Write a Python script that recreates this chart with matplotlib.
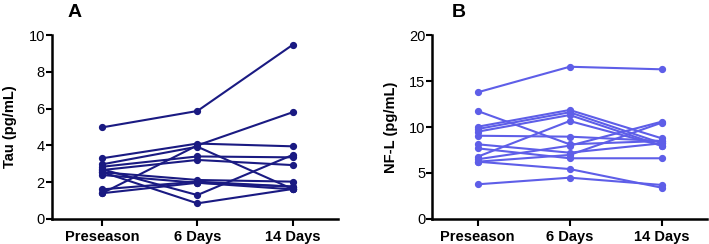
import numpy as np
import matplotlib.pyplot as plt

plt.rcParams['font.family'] = ['Liberation Sans', 'DejaVu Sans']

timepoints = ["Preseason", "6 Days", "14 Days"]

# Tau (pg/mL), one row per subject: preseason, 6 days, 14 days
tau = [
    [4.98, 5.87, 9.46],
    [1.40, 4.00, 5.80],
    [3.30, 4.10, 3.95],
    [2.97, 3.93, 1.63],
    [2.84, 3.40, 3.35],
    [2.66, 3.21, 2.93],
    [2.54, 2.12, 2.03],
    [2.39, 1.97, 1.76],
    [2.70, 1.30, 3.48],
    [1.61, 2.03, 1.76],
    [2.55, 0.85, 1.63],
    [1.40, 1.97, 1.61],
]

# NF-L (pg/mL)
nfl = [
    [13.77, 16.55, 16.27],
    [11.74, 8.12, 8.48],
    [10.03, 11.85, 8.77],
    [9.78, 11.60, 8.23],
    [9.49, 11.30, 7.97],
    [9.05, 8.95, 8.48],
    [8.12, 7.21, 8.23],
    [7.68, 6.60, 6.60],
    [6.77, 10.65, 7.97],
    [6.49, 7.97, 10.58],
    [6.23, 6.96, 10.47],
    [6.23, 5.43, 3.40],
    [3.77, 4.49, 3.70],
]

fig = plt.figure(figsize=(7.09, 2.44), dpi=100)
axA = fig.add_axes([0.073, 0.1025, 0.404, 0.754])
axB = fig.add_axes([0.61, 0.1025, 0.387, 0.754])


def panel(ax, data, color, ylim, yticks, ylabel, letter, xlim, letter_x):
    x = np.arange(len(timepoints))
    for row in data:
        ax.plot(x, row, color=color, lw=1.5, marker='o', ms=4.2, clip_on=False)
    ax.set_xlim(*xlim)
    ax.set_ylim(*ylim)
    ax.set_yticks(yticks)
    ax.set_xticks(x)
    ax.set_xticklabels(timepoints, fontweight='bold', fontsize=10.5)
    ax.tick_params(axis='y', labelsize=10.5, width=1.5, length=4, pad=1)
    ax.tick_params(axis='x', width=1.5, length=5, pad=3)
    for s in ['top', 'right']:
        ax.spines[s].set_visible(False)
    for s in ['left', 'bottom']:
        ax.spines[s].set_linewidth(1.8)
    ax.set_ylabel(ylabel, fontweight='bold', fontsize=10.5, labelpad=8)
    # panel letter
    ax.text(letter_x, 1.17, letter, transform=ax.transAxes,
            fontsize=14, fontweight='bold', va='top')


panel(axA, tau, '#1a1a82', (0, 10), [0, 2, 4, 6, 8, 10], 'Tau (pg/mL)', 'A', (-0.53, 2.48), 0.055)
panel(axB, nfl, '#5e5ee8', (0, 20), [0, 5, 10, 15, 20], 'NF-L (pg/mL)', 'B', (-0.49, 2.49), 0.07)

fig.savefig('out.png', dpi=100)
